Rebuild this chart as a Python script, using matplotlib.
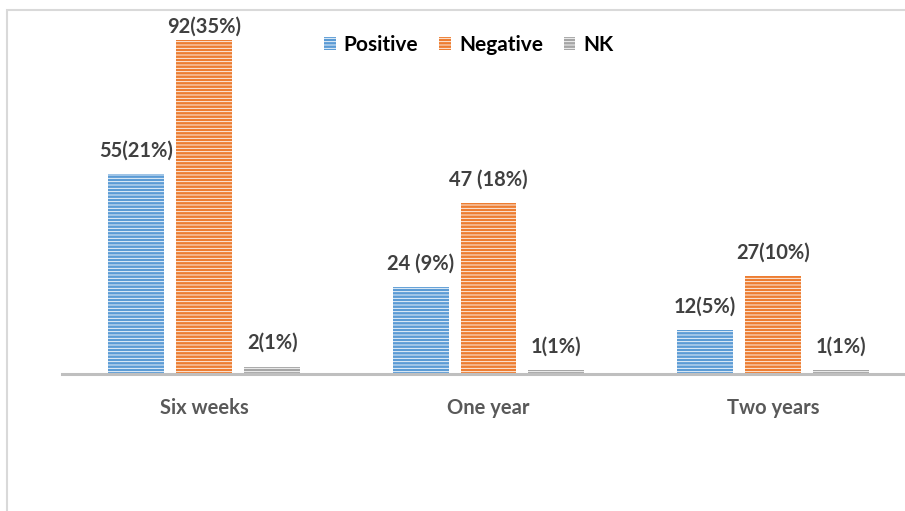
import matplotlib.pyplot as plt
import matplotlib.patches as mpatches
import numpy as np

plt.rcParams["font.family"] = ["Lato", "DejaVu Sans"]
plt.rcParams["hatch.linewidth"] = 0.6

categories = ["Six weeks", "One year", "Two years"]
series = ["Positive", "Negative", "NK"]
positive = [55, 24, 12]
negative = [92, 47, 27]
nk = [2, 1, 1]
positive_labels = ["55(21%)", "24 (9%)", "12(5%)"]
negative_labels = ["92(35%)", "47 (18%)", "27(10%)"]
nk_labels = ["2(1%)", "1(1%)", "1(1%)"]

colors = ["#5B9BD5", "#ED7D31", "#A5A5A5"]


def main():
    fig = plt.figure(figsize=(9.05, 5.11), dpi=100)
    ax = fig.add_axes([62 / 905, (511 - 374) / 511, 853 / 905, 363 / 511])

    # outer chart border (light gray, runs off the right/bottom edge)
    border = mpatches.Rectangle((7 / 905, -0.1), 1.2, (511 - 10) / 511 + 0.1,
                                transform=fig.transFigure, fill=False,
                                edgecolor="#D9D9D9", linewidth=1.5)
    fig.patches.append(border)

    x = np.arange(len(categories))
    width = 56 / 284.5
    step = 68 / 284.5
    data = [positive, negative, nk]
    labels = [positive_labels, negative_labels, nk_labels]

    for i, (vals, labs, col) in enumerate(zip(data, labels, colors)):
        pos = x + (i - 1) * step
        ax.bar(pos, vals, width, color=col, edgecolor="white",
               linewidth=0, hatch="-----", zorder=2)
        for p, v, lab in zip(pos, vals, labs):
            off = 9.5 if v > 90 else 17
            ax.annotate(lab, (p, v), xytext=(0, off), textcoords="offset points",
                        ha="center", va="center", fontsize=14.5,
                        fontweight="bold", color="#404040")

    ax.set_xlim(-0.5, 2.5)
    ax.set_ylim(0, 100)
    ax.set_xticks(x)
    ax.set_xticklabels(categories, fontsize=14.5, fontweight="bold",
                       color="#595959")
    ax.tick_params(axis="x", length=0, pad=17)
    ax.set_yticks([])
    for s in ["top", "right", "left"]:
        ax.spines[s].set_visible(False)
    ax.spines["bottom"].set_color("#BFBFBF")
    ax.spines["bottom"].set_linewidth(2.2)

    handles = [mpatches.Patch(facecolor=c, edgecolor="white", linewidth=0,
                              hatch="-----", label=s)
               for c, s in zip(colors, series)]
    leg = fig.legend(handles=handles, loc="center", ncol=3,
                     bbox_to_anchor=(469 / 905, 1 - 45 / 511), frameon=False,
                     prop={"size": 15, "weight": "bold"},
                     handlelength=0.55, handleheight=0.55,
                     handletextpad=0.4, columnspacing=1.0)
    for t in leg.get_texts():
        t.set_color("#000000")

    fig.savefig("out.png", dpi=100)
    plt.close()


if __name__ == "__main__":
    main()
